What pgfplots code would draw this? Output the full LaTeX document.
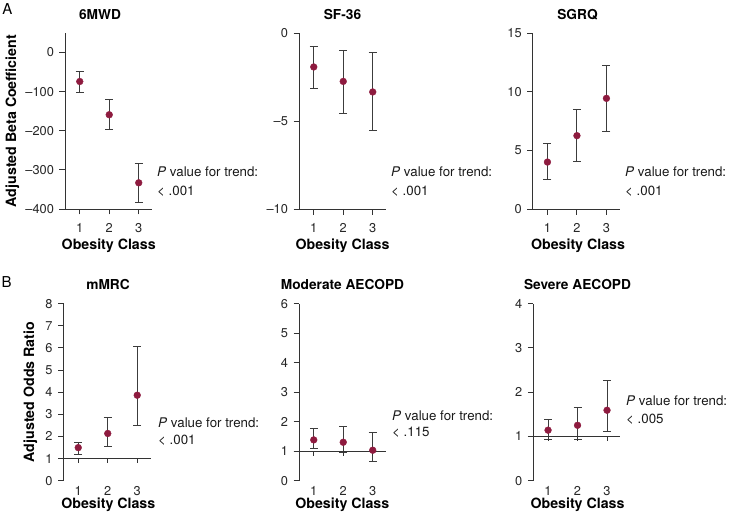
\documentclass[border=0pt]{standalone}
\usepackage{fontspec}
\setmainfont{TeX Gyre Heros}
\usepackage{pgfplots}
\pgfplotsset{compat=1.18}
\definecolor{dotred}{HTML}{8E1B3F}
\definecolor{barc}{HTML}{3C3C3C}
\definecolor{axc}{HTML}{333333}

\pgfplotsset{
 panel/.style={
  scale only axis, width=87pt, height=176pt,
  xmin=0.5, xmax=3.45,
  xtick={1,2,3},
  axis line style={axc, line width=0.9pt},
  tick style={axc, line width=0.9pt},
  major tick length=5.5pt,
  tick align=outside,
  axis y line*=left,
  /pgf/number format/assume math mode=true,
  tick label style={font=\fontsize{12.8}{14}\selectfont, text=black!85},
  yticklabel style={xshift=-2pt},
  clip=false,
 },
 rowA/.style={panel, axis x line*=bottom, xticklabel style={yshift=-5pt}},
 rowB/.style={panel, height=177pt, axis x line*=bottom,
   x axis line style={draw=none}, xtick style={draw=none},
   xticklabel style={yshift=3.5pt},
   extra y ticks={1}, extra y tick labels={},
   extra y tick style={grid=major, major grid style={axc, line width=0.9pt}}},
 pts/.style={only marks, mark=*, mark size=3.4pt,
   mark options={fill=dotred, draw=dotred},
   error bars/.cd, y dir=both, y explicit,
   error bar style={barc, line width=1pt},
   error mark options={rotate=90, mark size=4pt, barc, line width=1pt}},
}

\begin{document}
\begin{tikzpicture}
% ---------------- Row A ----------------
\begin{axis}[rowA, at={(65pt,303pt)}, anchor=south west,
  ymin=-400, ymax=50, ytick={-400,-300,-200,-100,0},
  yticklabels={–400,–300,–200,–100,0}]
\addplot+[pts] coordinates {
 (1,-74) += (0,26.5) -= (0,28)
 (2,-159) += (0,39) -= (0,39)
 (3,-333) += (0,50) -= (0,51)
};
\end{axis}

\begin{axis}[rowA, at={(299pt,303pt)}, anchor=south west,
  ymin=-10, ymax=0, ytick={-10,-5,0},
  yticklabels={–10,–5,0}]
\addplot+[pts] coordinates {
 (1,-1.93) += (0,1.17) -= (0,1.25)
 (2,-2.75) += (0,1.77) -= (0,1.80)
 (3,-3.35) += (0,2.23) -= (0,2.20)
};
\end{axis}

\begin{axis}[rowA, at={(532.7pt,303pt)}, anchor=south west,
  ymin=0, ymax=15, ytick={0,5,10,15}]
\addplot+[pts] coordinates {
 (1,4.0) += (0,1.54) -= (0,1.5)
 (2,6.25) += (0,2.24) -= (0,2.19)
 (3,9.43) += (0,2.79) -= (0,2.81)
};
\end{axis}

% ---------------- Row B ----------------
\begin{axis}[rowB, at={(63.5pt,31.4pt)}, anchor=south west,
  ymin=0, ymax=8, ytick={0,1,...,8}]
\addplot+[pts] coordinates {
 (1,1.49) += (0,0.25) -= (0,0.30)
 (2,2.13) += (0,0.71) -= (0,0.57)
 (3,3.86) += (0,2.18) -= (0,1.38)
};
\draw[axc, line width=0.9pt] (axis cs:1,1) -- ([yshift=-5pt]axis cs:1,1);
\draw[axc, line width=0.9pt] (axis cs:2,1) -- ([yshift=-5pt]axis cs:2,1);
\draw[axc, line width=0.9pt] (axis cs:3,1) -- ([yshift=-5pt]axis cs:3,1);
\end{axis}

\begin{axis}[rowB, at={(299pt,31.4pt)}, anchor=south west,
  ymin=0, ymax=6, ytick={0,1,...,6}]
\addplot+[pts] coordinates {
 (1,1.38) += (0,0.38) -= (0,0.30)
 (2,1.30) += (0,0.54) -= (0,0.35)
 (3,1.03) += (0,0.59) -= (0,0.38)
};
\draw[axc, line width=0.9pt] (axis cs:1,1) -- ([yshift=-5pt]axis cs:1,1);
\draw[axc, line width=0.9pt] (axis cs:2,1) -- ([yshift=-5pt]axis cs:2,1);
\draw[axc, line width=0.9pt] (axis cs:3,1) -- ([yshift=-5pt]axis cs:3,1);
\end{axis}

\begin{axis}[rowB, at={(533.3pt,31.4pt)}, anchor=south west,
  ymin=0, ymax=4, ytick={0,1,...,4}]
\addplot+[pts] coordinates {
 (1,1.14) += (0,0.24) -= (0,0.22)
 (2,1.25) += (0,0.41) -= (0,0.32)
 (3,1.59) += (0,0.68) -= (0,0.47)
};
\draw[axc, line width=0.9pt] (axis cs:1,1) -- ([yshift=-5pt]axis cs:1,1);
\draw[axc, line width=0.9pt] (axis cs:2,1) -- ([yshift=-5pt]axis cs:2,1);
\draw[axc, line width=0.9pt] (axis cs:3,1) -- ([yshift=-5pt]axis cs:3,1);
\end{axis}

% ---------------- Text ----------------
\tikzset{ttl/.style={font=\bfseries\fontsize{13.7}{16}\selectfont},
         lbl/.style={font=\bfseries\fontsize{14.2}{16}\selectfont},
         pv/.style={anchor=base west, font=\fontsize{13.3}{16}\selectfont, text=black!90, inner sep=0pt},
         let/.style={font=\fontsize{15}{18}\selectfont}}
\node[let] at (7.5pt,503.3pt) {A};
\node[let] at (6.7pt,229.5pt) {B};

\node[ttl] at (100pt,497pt) {6MWD};
\node[ttl] at (342.5pt,497pt) {SF-36};
\node[ttl] at (577.5pt,497pt) {SGRQ};
\node[ttl] at (108pt,227.7pt) {mMRC};
\node[ttl] at (342.5pt,227.7pt) {Moderate AECOPD};
\node[ttl] at (577.5pt,227.7pt) {Severe AECOPD};

\node[lbl] at (108.7pt,266.3pt) {Obesity Class};
\node[lbl] at (342.5pt,266.3pt) {Obesity Class};
\node[lbl] at (578pt,266.3pt) {Obesity Class};
\node[lbl] at (108.3pt,7.5pt) {Obesity Class};
\node[lbl] at (342.3pt,7.5pt) {Obesity Class};
\node[lbl] at (577.5pt,7.5pt) {Obesity Class};

\node[lbl, rotate=90] at (12.3pt,391pt) {Adjusted Beta Coefficient};
\node[lbl, rotate=90] at (30.5pt,120pt) {Adjusted Odds Ratio};

\node[pv] at (157pt,335pt) {\textit{P} value for trend:};
\node[pv] at (157pt,316pt) {< .001};
\node[pv] at (391pt,335pt) {\textit{P} value for trend:};
\node[pv] at (391pt,316pt) {< .001};
\node[pv] at (625pt,335pt) {\textit{P} value for trend:};
\node[pv] at (625pt,316pt) {< .001};

\node[pv] at (158pt,84.3pt) {\textit{P} value for trend:};
\node[pv] at (158pt,67.7pt) {< .001};
\node[pv] at (392pt,92pt) {\textit{P} value for trend:};
\node[pv] at (392pt,75.3pt) {< .115};
\node[pv] at (626pt,106.3pt) {\textit{P} value for trend:};
\node[pv] at (626pt,88.7pt) {< .005};

\pgfresetboundingbox
\path[use as bounding box] (0,0) rectangle (733pt,512pt);
\end{tikzpicture}
\end{document}
